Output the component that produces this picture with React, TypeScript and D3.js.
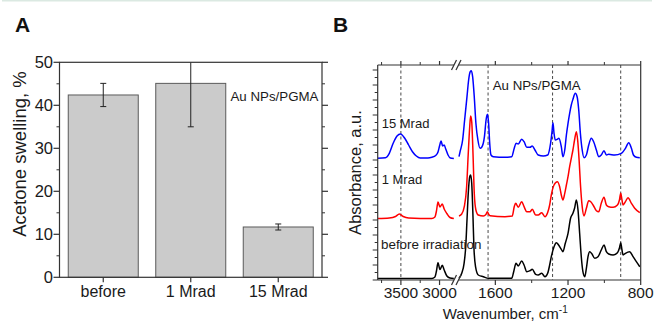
import React from 'react';
import * as d3 from 'd3';

// ---------- Panel A data ----------
const categories = ['before', '1 Mrad', '15 Mrad'];
const swelling = [42.4, 45.1, 11.7];
const swellingErr = [2.7, 10.1, 0.7];
const yTicksA = [0, 10, 20, 30, 40, 50];
const yMinorA = [5, 15, 25, 35, 45];

// ---------- Panel B data (wavenumber, absorbance a.u., offset included) ----------
const wnMajorLeft = [3500, 3000];
const wnMinorLeft = [3750, 3250];
const wnMajorRight = [1600, 1200, 800];
const wnMinorRight = [1400, 1000];
const dashedLeft = [3500];
const dashedRight = [1640, 1285, 910];

type P = [number, number];

const blueLeft: P[] = [
  [3800, 1.217], [3700, 1.223], [3650, 1.267], [3600, 1.367], [3550, 1.44], [3505, 1.46],
  [3450, 1.417], [3400, 1.35], [3350, 1.283], [3300, 1.24], [3250, 1.22], [3150, 1.22],
  [3100, 1.227], [3050, 1.245], [3020, 1.28], [3000, 1.34], [2980, 1.39], [2960, 1.34],
  [2940, 1.35], [2920, 1.31], [2890, 1.25], [2860, 1.22], [2815, 1.215],
];
const redLeft: P[] = [
  [3800, 0.615], [3650, 0.62], [3570, 0.635], [3520, 0.66], [3470, 0.635], [3400, 0.62],
  [3100, 0.615], [3060, 0.63], [3040, 0.69], [3020, 0.78], [2995, 0.73], [2965, 0.76],
  [2940, 0.71], [2905, 0.665], [2865, 0.625], [2815, 0.615],
];
const blackLeft: P[] = [
  [3800, 0.015], [3100, 0.015], [3060, 0.03], [3040, 0.09], [3020, 0.173], [2995, 0.105],
  [2965, 0.147], [2940, 0.1], [2905, 0.04], [2865, 0.02], [2815, 0.015],
];

const blueRight: P[] = [
  [1800, 1.233], [1794, 1.283], [1780, 1.4], [1769, 1.6], [1756, 1.833], [1747, 2.0],
  [1738, 2.083], [1732, 2.093], [1725, 2.033], [1716, 1.833], [1707, 1.567], [1696, 1.4],
  [1684, 1.317], [1675, 1.327], [1660, 1.433], [1651, 1.6], [1644, 1.657], [1637, 1.567],
  [1631, 1.367], [1624, 1.25], [1611, 1.233], [1547, 1.227], [1510, 1.233], [1496, 1.317],
  [1486, 1.367], [1474, 1.36], [1455, 1.407], [1442, 1.383], [1427, 1.327], [1409, 1.327],
  [1397, 1.34], [1382, 1.3], [1364, 1.25], [1336, 1.24], [1312, 1.25], [1296, 1.367],
  [1288, 1.483], [1283, 1.573], [1277, 1.467], [1270, 1.4], [1259, 1.407], [1250, 1.417],
  [1237, 1.333], [1228, 1.233], [1218, 1.3], [1209, 1.45], [1200, 1.567], [1191, 1.667],
  [1182, 1.75], [1173, 1.807], [1160, 1.867], [1150, 1.833], [1141, 1.7], [1132, 1.467],
  [1122, 1.3], [1112, 1.223], [1099, 1.25], [1086, 1.35], [1072, 1.417], [1059, 1.383],
  [1044, 1.3], [1031, 1.233], [1017, 1.25], [1002, 1.293], [989, 1.25], [976, 1.257],
  [943, 1.25], [907, 1.267], [884, 1.317], [866, 1.373], [851, 1.317], [840, 1.25],
  [824, 1.227], [805, 1.223],
];
const redRight: P[] = [
  [1800, 0.64], [1785, 0.66], [1771, 0.733], [1758, 0.933], [1749, 1.267], [1741, 1.533],
  [1736, 1.64], [1730, 1.583], [1723, 1.267], [1716, 0.867], [1707, 0.7], [1694, 0.65],
  [1666, 0.64], [1652, 0.655], [1644, 0.683], [1636, 0.655], [1629, 0.643], [1547, 0.633],
  [1507, 0.64], [1496, 0.733], [1488, 0.767], [1474, 0.727], [1455, 0.783], [1442, 0.733],
  [1427, 0.683], [1409, 0.683], [1397, 0.707], [1378, 0.65], [1364, 0.65], [1345, 0.673],
  [1327, 0.633], [1312, 0.675], [1301, 0.75], [1292, 0.85], [1277, 0.95], [1259, 0.983],
  [1246, 0.933], [1237, 0.85], [1228, 0.8], [1218, 0.867], [1209, 0.95], [1200, 1.033],
  [1191, 1.133], [1182, 1.217], [1173, 1.3], [1164, 1.4], [1154, 1.483], [1147, 1.4],
  [1139, 1.2], [1132, 0.967], [1122, 0.733], [1112, 0.64], [1099, 0.717], [1086, 0.793],
  [1075, 0.783], [1062, 0.75], [1044, 0.693], [1031, 0.683], [1017, 0.767], [1002, 0.827],
  [989, 0.75], [976, 0.733], [952, 0.727], [928, 0.75], [917, 0.8], [910, 0.867],
  [903, 0.8], [897, 0.75], [884, 0.783], [870, 0.823], [851, 0.767], [833, 0.717],
  [805, 0.673],
];
const blackRight: P[] = [
  [1800, 0.017], [1785, 0.067], [1772, 0.167], [1763, 0.333], [1756, 0.6], [1749, 0.867],
  [1741, 1.033], [1736, 1.05], [1730, 0.967], [1723, 0.633], [1718, 0.333], [1709, 0.133],
  [1694, 0.05], [1666, 0.033], [1638, 0.017], [1510, 0.017], [1499, 0.083], [1486, 0.167],
  [1474, 0.14], [1455, 0.19], [1442, 0.15], [1427, 0.083], [1409, 0.093], [1397, 0.107],
  [1378, 0.057], [1364, 0.05], [1345, 0.067], [1327, 0.033], [1312, 0.067], [1301, 0.15],
  [1292, 0.233], [1277, 0.333], [1264, 0.373], [1252, 0.35], [1237, 0.307], [1228, 0.283],
  [1215, 0.367], [1200, 0.467], [1186, 0.617], [1173, 0.667], [1164, 0.717], [1154, 0.8],
  [1145, 0.7], [1136, 0.467], [1127, 0.233], [1118, 0.083], [1108, 0.033], [1099, 0.117],
  [1090, 0.233], [1081, 0.283], [1068, 0.26], [1053, 0.217], [1035, 0.233], [1017, 0.3],
  [1002, 0.35], [989, 0.283], [976, 0.26], [952, 0.25], [928, 0.273], [917, 0.32],
  [910, 0.373], [903, 0.3], [897, 0.25], [884, 0.267], [861, 0.283], [842, 0.233],
  [824, 0.183], [805, 0.133],
];

const seriesB = [
  { name: 'before irradiation', color: '#000000', left: blackLeft, right: blackRight },
  { name: '1 Mrad', color: '#ff0000', left: redLeft, right: redRight },
  { name: '15 Mrad', color: '#0000ff', left: blueLeft, right: blueRight },
];

const FONT = '"Liberation Sans", Arial, Helvetica, sans-serif';

export default function App() {
  // Panel A scales
  const aL = 59.5, aR = 322, aT = 62.3, aB = 277.3;
  const xA = d3.scaleBand<string>().domain(categories).range([aL, aR]).paddingInner(0.2).paddingOuter(0.1);
  const yA = d3.scaleLinear().domain([0, 50]).range([aB, aT]);

  // Panel B scales
  const bL = 377.7, bR = 640.7, bT = 65, bB = 280;
  const xL = d3.scaleLinear().domain([3800, 2800]).range([bL, 455]);
  const xR = d3.scaleLinear().domain([1800, 800]).range([459, bR]);
  const yB = d3.scaleLinear().domain([0, 2.15]).range([bB, bT]);
  const yTicksB = d3.range(0, 2.151, 0.075);

  const lineL = d3.line<P>().x(d => xL(d[0])).y(d => yB(d[1])).curve(d3.curveMonotoneX);
  const lineR = d3.line<P>().x(d => xR(d[0])).y(d => yB(d[1])).curve(d3.curveMonotoneX);

  const axisColor = '#333';
  const txt = '#1a1a1a';

  return (
    <svg width={655} height={324} style={{ position: 'absolute', left: 0, top: 0, background: '#fff' }} fontFamily={FONT}>
      <rect x={2} y={0} width={650} height={1.5} fill="#dbe9e2" />

      {/* ================= Panel A ================= */}
      <text x={15} y={32} fontSize={21} fontWeight="bold" fill="#111">A</text>
      <defs>
        <clipPath id="clipA"><rect x={aL} y={aT} width={aR - aL} height={aB - aT} /></clipPath>
        <clipPath id="clipB"><rect x={bL} y={bT} width={bR - bL} height={bB - bT} /></clipPath>
      </defs>
      {categories.map((c, i) => (
        <rect key={c} x={xA(c)} y={yA(swelling[i])} width={xA.bandwidth()} height={yA(0) - yA(swelling[i])}
          fill="#cbcbcb" stroke="#5a5a5a" strokeWidth={1} />
      ))}
      <g clipPath="url(#clipA)">
        {categories.map((c, i) => {
          const cx = (xA(c) as number) + xA.bandwidth() / 2;
          const hi = swelling[i] + swellingErr[i];
          const lo = swelling[i] - swellingErr[i];
          return (
            <g key={c} stroke="#222" strokeWidth={1}>
              <line x1={cx} x2={cx} y1={yA(hi)} y2={yA(lo)} />
              <line x1={cx - 3} x2={cx + 3} y1={yA(hi)} y2={yA(hi)} />
              <line x1={cx - 3} x2={cx + 3} y1={yA(lo)} y2={yA(lo)} />
            </g>
          );
        })}
      </g>
      <rect x={aL} y={aT} width={aR - aL} height={aB - aT} fill="none" stroke={axisColor} strokeWidth={1.2} />
      {yTicksA.map(t => (
        <g key={t}>
          <line x1={aL - 6} x2={aL} y1={yA(t)} y2={yA(t)} stroke={axisColor} strokeWidth={1.2} />
          <line x1={aR} x2={aR + 6} y1={yA(t)} y2={yA(t)} stroke={axisColor} strokeWidth={1.2} />
          <text x={aL - 6.5} y={yA(t) + 6} fontSize={16.5} textAnchor="end" fill={txt}>{t}</text>
        </g>
      ))}
      {yMinorA.map(t => (
        <g key={t}>
          <line x1={aL - 3} x2={aL} y1={yA(t)} y2={yA(t)} stroke={axisColor} strokeWidth={1} />
          <line x1={aR} x2={aR + 3} y1={yA(t)} y2={yA(t)} stroke={axisColor} strokeWidth={1} />
        </g>
      ))}
      {categories.map(c => {
        const cx = (xA(c) as number) + xA.bandwidth() / 2;
        return (
          <g key={c}>
            <line x1={cx} x2={cx} y1={aB} y2={aB + 5} stroke={axisColor} strokeWidth={1.2} />
            <text x={cx} y={297} fontSize={16} textAnchor="middle" fill={txt}>{c}</text>
          </g>
        );
      })}
      <text transform={`translate(26, 154) rotate(-90)`} fontSize={18.5} textAnchor="middle" fill={txt}>
        Acetone swelling, %
      </text>
      <text x={230.5} y={101} fontSize={13.3} fill={txt}>Au NPs/PGMA</text>

      {/* ================= Panel B ================= */}
      <text x={333} y={32} fontSize={21} fontWeight="bold" fill="#111">B</text>

      {dashedLeft.map(w => (
        <line key={w} x1={xL(w)} x2={xL(w)} y1={bT} y2={bB} stroke="#333" strokeWidth={0.9} strokeDasharray="3,2.5" />
      ))}
      {dashedRight.map(w => (
        <line key={w} x1={xR(w)} x2={xR(w)} y1={bT} y2={bB} stroke="#333" strokeWidth={0.9} strokeDasharray="3,2.5" />
      ))}

      <g clipPath="url(#clipB)" fill="none" strokeWidth={1.5} strokeLinejoin="round">
        {seriesB.map(s => (
          <g key={s.name} stroke={s.color}>
            <path d={lineL(s.left) || ''} />
            <path d={lineR(s.right) || ''} />
          </g>
        ))}
      </g>

      {/* frame with axis break */}
      <g stroke={axisColor} strokeWidth={1.2} fill="none">
        <line x1={bL} x2={bL} y1={bT} y2={bB} />
        <line x1={bR} x2={bR} y1={bT} y2={bB} />
        <line x1={bL} x2={454} y1={bT} y2={bT} />
        <line x1={458.5} x2={bR} y1={bT} y2={bT} />
        <line x1={bL} x2={454} y1={bB} y2={bB} />
        <line x1={458.5} x2={bR} y1={bB} y2={bB} />
        {[bT, bB].map(yy => (
          <g key={yy}>
            <line x1={451.5} x2={456.5} y1={yy + 5} y2={yy - 5} />
            <line x1={456} x2={461} y1={yy + 5} y2={yy - 5} />
          </g>
        ))}
      </g>

      {/* y ticks B */}
      {yTicksB.map((t, i) => (
        <line key={i} x1={bL - (i % 2 === 0 ? 5 : 3)} x2={bL} y1={yB(t)} y2={yB(t)} stroke={axisColor} strokeWidth={1} />
      ))}

      {/* x ticks B */}
      {wnMajorLeft.map(w => (
        <g key={w}>
          <line x1={xL(w)} x2={xL(w)} y1={bB} y2={bB + 5} stroke={axisColor} strokeWidth={1.2} />
          <line x1={xL(w)} x2={xL(w)} y1={bT} y2={bT - 4} stroke={axisColor} strokeWidth={1.2} />
          <text x={xL(w)} y={298} fontSize={15.5} textAnchor="middle" fill={txt}>{w}</text>
        </g>
      ))}
      {wnMinorLeft.map(w => (
        <g key={w}>
          <line x1={xL(w)} x2={xL(w)} y1={bB} y2={bB + 3} stroke={axisColor} strokeWidth={1} />
          <line x1={xL(w)} x2={xL(w)} y1={bT} y2={bT - 3} stroke={axisColor} strokeWidth={1} />
        </g>
      ))}
      {wnMajorRight.map(w => (
        <g key={w}>
          <line x1={xR(w)} x2={xR(w)} y1={bB} y2={bB + 5} stroke={axisColor} strokeWidth={1.2} />
          <line x1={xR(w)} x2={xR(w)} y1={bT} y2={bT - 4} stroke={axisColor} strokeWidth={1.2} />
          <text x={xR(w)} y={298} fontSize={15.5} textAnchor="middle" fill={txt}>{w}</text>
        </g>
      ))}
      {wnMinorRight.map(w => (
        <g key={w}>
          <line x1={xR(w)} x2={xR(w)} y1={bB} y2={bB + 3} stroke={axisColor} strokeWidth={1} />
          <line x1={xR(w)} x2={xR(w)} y1={bT} y2={bT - 3} stroke={axisColor} strokeWidth={1} />
        </g>
      ))}

      <text x={(bL + bR) / 2 - 4} y={319} fontSize={15} textAnchor="middle" fill={txt}>
        Wavenumber, cm<tspan dy={-6} fontSize={10}>-1</tspan>
      </text>
      <text transform={`translate(361, ${(bT + bB) / 2}) rotate(-90)`} fontSize={16.5} textAnchor="middle" fill={txt}>
        Absorbance, a.u.
      </text>

      <text x={381.7} y={128.3} fontSize={13} fill={txt}>15 Mrad</text>
      <text x={381.7} y={184} fontSize={13} fill={txt}>1 Mrad</text>
      <text x={381} y={249} fontSize={13.4} fill={txt}>before irradiation</text>
      <text x={492.7} y={90} fontSize={13.3} fill={txt}>Au NPs/PGMA</text>
    </svg>
  );
}
